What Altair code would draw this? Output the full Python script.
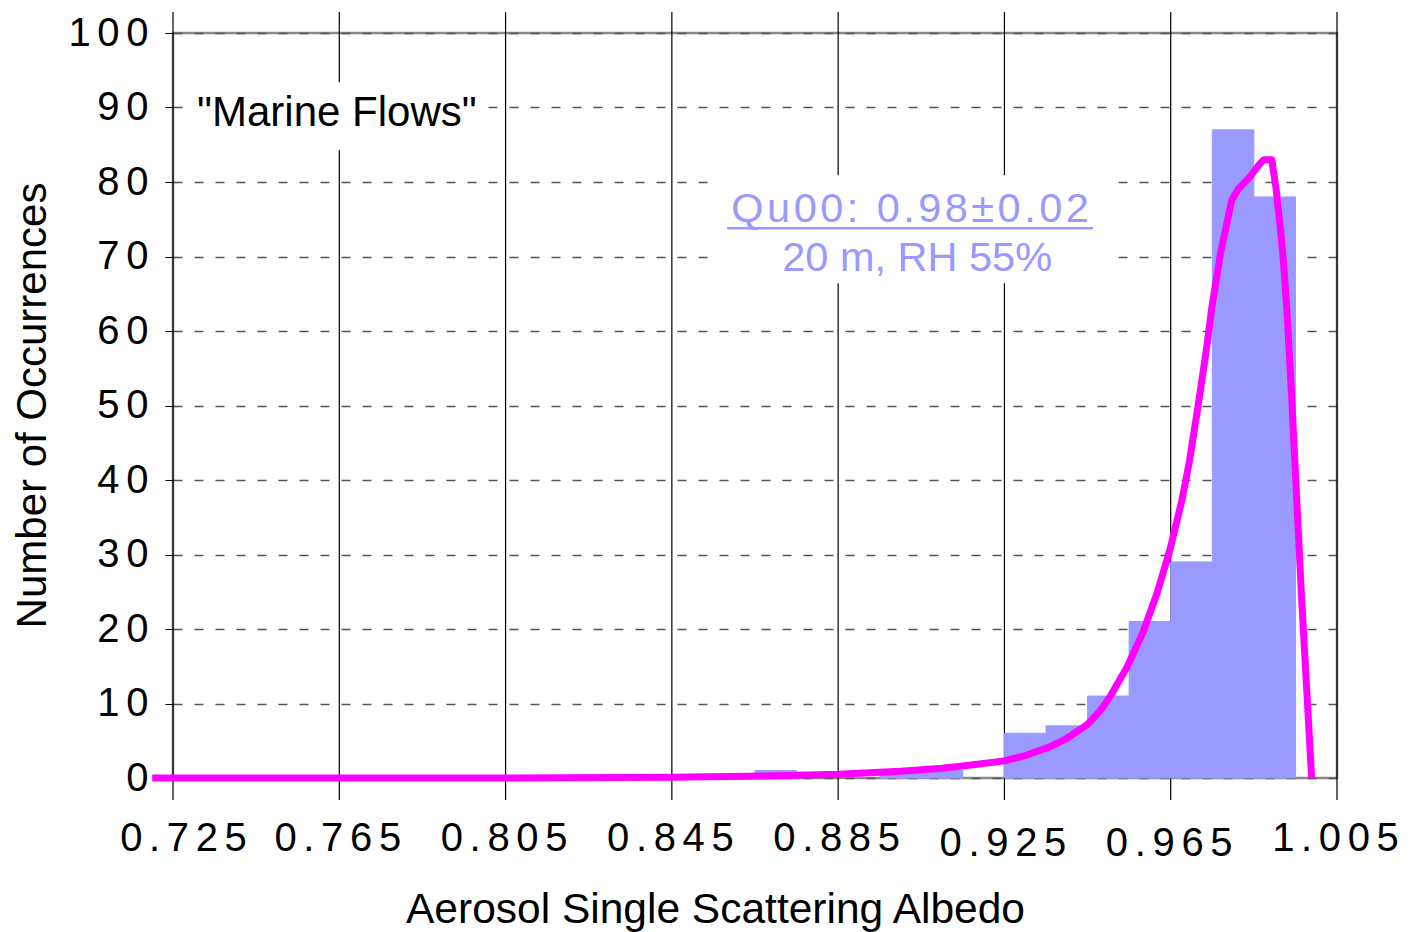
import altair as alt
import pandas as pd

# Histogram bins (albedo bin edges) and counts
bin_start = [0.865, 0.895, 0.905, 0.925, 0.935, 0.945, 0.955, 0.965, 0.975, 0.985]
bin_end = [0.875, 0.905, 0.915, 0.935, 0.945, 0.955, 0.965, 0.975, 0.985, 0.995]
counts = [1, 1, 1, 6, 7, 11, 21, 29, 87, 78]

# Fitted distribution curve (magenta)
fit_x = [0.720, 0.760, 0.800, 0.845, 0.870, 0.885, 0.900, 0.910, 0.918, 0.925,
         0.930, 0.936, 0.940, 0.945, 0.948, 0.9505, 0.9545, 0.9583, 0.9617, 0.9648,
         0.9677, 0.9695, 0.9716, 0.9737, 0.9749, 0.9770, 0.9797, 0.9812, 0.9841, 0.9865,
         0.9875, 0.9893, 0.9903, 0.9916, 0.9923, 0.9930, 0.9942, 0.9965, 0.9989]
fit_y = [0, 0, 0, 0.1, 0.3, 0.5, 0.9, 1.3, 1.8, 2.3,
         3.0, 4.2, 5.3, 7.2, 9.0, 11.0, 14.9, 19.5, 24.8, 30.6,
         37.3, 42.5, 50.0, 58.0, 63.2, 70.5, 77.6, 79.0, 80.7, 82.5,
         83.0, 83.0, 79.3, 72.6, 68.0, 62.4, 50.0, 24.0, 0]

x_ticks = [0.725, 0.765, 0.805, 0.845, 0.885, 0.925, 0.965, 1.005]
y_ticks = [0, 10, 20, 30, 40, 50, 60, 70, 80, 90, 100]

label_text = ["\"Marine Flows\""]
label_x = [0.7308]
label_y = [87.5]

HAIR = "\u200a"
ann_text = [HAIR.join("Qu00: 0.98±0.02"), "20 m, RH 55%"]
ann_x = [0.9023, 0.904]
ann_y = [74.6, 68.05]

underline_x = [0.8583]
underline_x2 = [0.9463]
underline_y = [73.8]

# white boxes behind the text annotations
box_x = [0.7291, 0.8542]
box_x2 = [0.7993, 0.9504]
box_y = [84.3, 66.4]
box_y2 = [93.4, 80.9]

FONT = "Liberation Sans"
SPACE = "\u2006"

bars = pd.DataFrame({"x0": bin_start, "x1": bin_end, "n": counts})
fit = pd.DataFrame({"x": fit_x, "y": fit_y})
xt = pd.DataFrame({"x": x_ticks})
lab = pd.DataFrame({"x": label_x, "y": label_y, "t": label_text})
ann = pd.DataFrame({"x": ann_x, "y": ann_y, "t": ann_text})
ul = pd.DataFrame({"x": underline_x, "x2": underline_x2, "y": underline_y})
boxes = pd.DataFrame({"x": box_x, "x2": box_x2, "y": box_y, "y2": box_y2})

xscale = alt.Scale(domain=[0.725, 1.005], nice=False, zero=False)
yscale = alt.Scale(domain=[0, 100], nice=False)

x_axis = alt.Axis(
    values=x_ticks, format=".3f", grid=False, domain=False, ticks=False,
    labelExpr="join(split(datum.label, ''), '" + SPACE + "')",
    labelFont=FONT, labelFontSize=40, labelColor="black",
    labelPadding={"condition": {"test": "datum.value > 0.9 && datum.value < 0.97", "value": 45},
                  "value": 40},
    labelOffset={"condition": {"test": "datum.value < 0.73", "value": 10}, "value": -2},
    labelBaseline="top", labelFlush=False, labelOverlap=False,
    title="Aerosol Single Scattering Albedo", titleFont=FONT, titleFontSize=42.5,
    titleFontWeight="normal", titleColor="black", titleX=542, titleY=144,
    titleBaseline="alphabetic", titleAlign="center",
)
y_axis = alt.Axis(
    values=y_ticks, format="d", grid=True, gridColor="#555555", gridDash=[9, 12],
    gridWidth=1.3, domain=False, ticks=True, tickColor="black", tickSize=8, tickWidth=1,
    labelExpr="join(split(datum.label, ''), '" + SPACE + "')",
    labelFont=FONT, labelFontSize=40, labelColor="black", labelPadding=17,
    labelFlush=False, labelOverlap=False,
    title="Number of Occurrences", titleFont=FONT, titleFontSize=42,
    titleFontWeight="normal", titleColor="black", titleAngle=-90,
    titleX=-128, titleY=372, titleBaseline="alphabetic", titleAlign="center",
)

vlines = alt.Chart(xt).mark_rule(color="black", strokeWidth=1.2).encode(
    x=alt.X("x:Q", scale=xscale, axis=x_axis),
    y=alt.value(-21),
    y2=alt.value(767),
)

hist = alt.Chart(bars).mark_rect(color="#9999FF", stroke="#9999FF", strokeWidth=1).encode(
    x=alt.X("x0:Q", scale=xscale),
    x2="x1:Q",
    y=alt.Y("n:Q", scale=yscale, axis=y_axis),
    y2=alt.datum(0),
)

bg = alt.Chart(boxes).mark_rect(color="white").encode(
    x=alt.X("x:Q", scale=xscale),
    x2="x2:Q",
    y=alt.Y("y:Q", scale=yscale),
    y2="y2:Q",
)

curve = alt.Chart(fit).mark_line(
    color="#FF00FF", strokeWidth=7, clip=False, strokeJoin="round", strokeCap="butt"
).encode(
    x=alt.X("x:Q", scale=xscale),
    y=alt.Y("y:Q", scale=yscale),
)

label = alt.Chart(lab).mark_text(
    font=FONT, fontSize=42, baseline="alphabetic", align="left", color="black"
).encode(
    x=alt.X("x:Q", scale=xscale),
    y=alt.Y("y:Q", scale=yscale),
    text="t:N",
)

texts = alt.Chart(ann).mark_text(
    font=FONT, fontSize=41.5, baseline="alphabetic", align="center", color="#9999FF"
).encode(
    x=alt.X("x:Q", scale=xscale),
    y=alt.Y("y:Q", scale=yscale),
    text="t:N",
)

underline = alt.Chart(ul).mark_rule(color="#9999FF", strokeWidth=2.5).encode(
    x=alt.X("x:Q", scale=xscale),
    x2="x2:Q",
    y=alt.Y("y:Q", scale=yscale),
)

chart = alt.layer(vlines, hist, bg, curve, label, texts, underline).properties(
    width=1164, height=745,
    padding={"left": 173, "top": 33, "right": 75, "bottom": 154},
    autosize=alt.AutoSizeParams(type="none"),
    background="white",
).configure_view(stroke="#888888", strokeWidth=2.5)

chart.save("out.html", embed_options={"renderer": "svg", "actions": False})
